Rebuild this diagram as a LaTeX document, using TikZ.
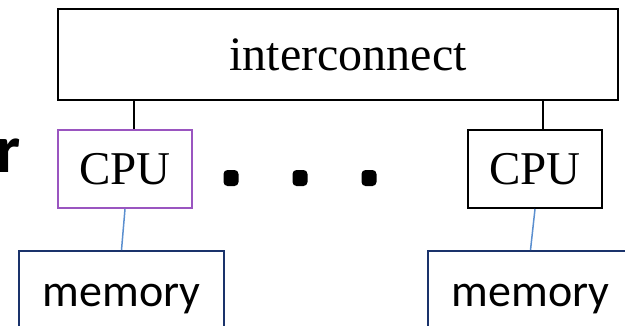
\documentclass[tikz,border=0pt]{standalone}
\usepackage{fontspec}
\setmainfont{Liberation Serif}
\newfontfamily\calibri{Carlito}
\definecolor{cpupurple}{HTML}{9A55C0}
\definecolor{linkblue}{HTML}{5B8FCF}
\definecolor{memnavy}{HTML}{1A336B}
\tikzset{
  box/.style={draw=black, line width=2pt, rectangle, inner sep=0pt, anchor=north west},
  cpubox/.style={box, minimum width=134pt, minimum height=78pt, font=\fontsize{47}{50}\selectfont},
  membox/.style={draw=memnavy, line width=2pt, rectangle, inner sep=0pt, anchor=north west,
    minimum width=205pt, minimum height=96pt, font=\calibri\fontsize{46}{50}\selectfont},
  blink/.style={draw=linkblue, line width=1.5pt},
  klink/.style={draw=black, line width=2pt},
  bigdot/.style={fill=black, rounded corners=4pt, minimum width=15pt, minimum height=16pt, inner sep=0pt}
}
\begin{document}
\begin{tikzpicture}[x=1pt,y=-1pt]
\useasboundingbox (0,0) rectangle (625,325);
\clip (0,0) rectangle (625,325);
\node[box, minimum width=560pt, minimum height=91pt, font=\fontsize{48}{50}\selectfont] (ic) at (57,8) {\hspace*{20pt}interconnect};
\node[cpubox, draw=cpupurple] (cpuL) at (57,129) {CPU};
\node[cpubox] (cpuR) at (467,129) {CPU};
\node[membox] (memL) at (18,250) {memory};
\node[membox] (memR) at (427,250) {memory};
\node[anchor=base east, inner sep=0pt, font=\calibri\bfseries\fontsize{68}{70}\selectfont] (r) at (21,172) {r};
\node[bigdot] (d1) at (231,178) {};
\node[bigdot] (d2) at (300,178) {};
\node[bigdot] (d3) at (369,178) {};
\draw[klink] (cpuL.north) ++(9,0) coordinate (aL) -- (aL |- ic.south);
\draw[klink] (cpuR.north) ++(8,0) coordinate (aR) -- (aR |- ic.south);
\draw[blink] (cpuL.south) -- (memL.north);
\draw[blink] (cpuR.south) -- (memR.north);
\end{tikzpicture}
\end{document}
